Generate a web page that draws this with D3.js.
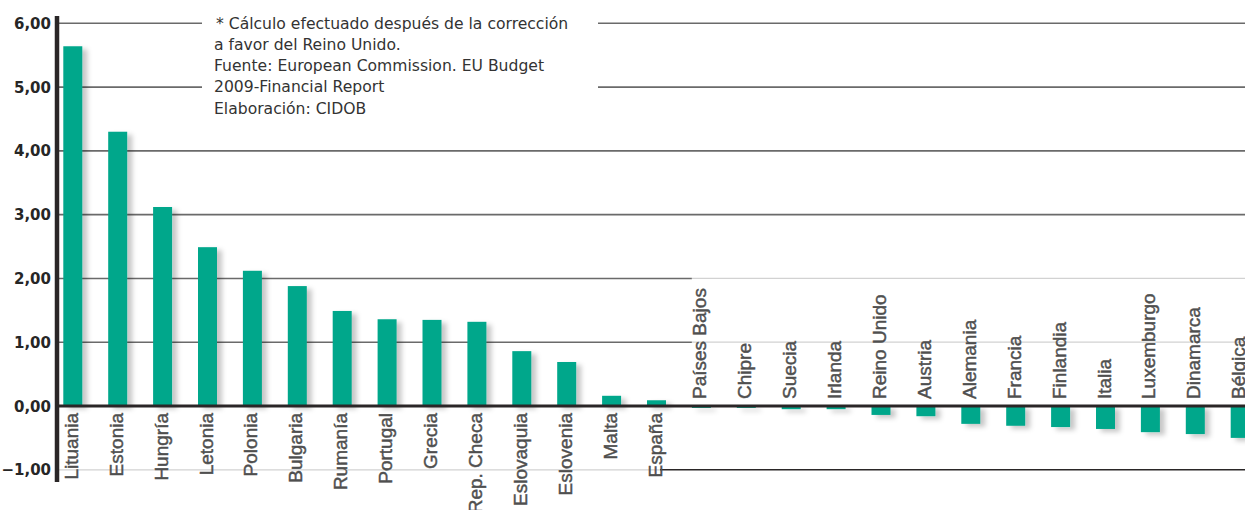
<!DOCTYPE html>
<html lang="es">
<head>
<meta charset="utf-8">
<title>Saldo neto por país</title>
<script src="https://cdn.jsdelivr.net/npm/d3@7/dist/d3.min.js"></script>
<style>
  html, body { margin: 0; padding: 0; background: #fff; }
  svg { display: block; }
</style>
</head>
<body>
<svg id="chart" width="1245" height="510"></svg>
<script>
// Saldo neto (% ingreso nacional bruto), ordenado de mayor a menor
const countries = [
  "Lituania", "Estonia", "Hungría", "Letonia", "Polonia", "Bulgaria", "Rumanía",
  "Portugal", "Grecia", "Rep. Checa", "Eslovaquia", "Eslovenia", "Malta", "España",
  "Países Bajos", "Chipre", "Suecia", "Irlanda", "Reino Unido", "Austria", "Alemania",
  "Francia", "Finlandia", "Italia", "Luxemburgo", "Dinamarca", "Bélgica"
];
const balance = [
  5.64, 4.30, 3.12, 2.49, 2.12, 1.88, 1.49,
  1.36, 1.35, 1.32, 0.86, 0.69, 0.16, 0.09,
  -0.03, -0.03, -0.05, -0.05, -0.14, -0.16, -0.28,
  -0.31, -0.33, -0.36, -0.41, -0.44, -0.50
];
const yTicks = [-1, 0, 1, 2, 3, 4, 5, 6];
const noteLines = [
  "* Cálculo efectuado después de la corrección",
  "a favor del Reino Unido.",
  "Fuente: European Commission. EU Budget",
  "2009-Financial Report",
  "Elaboración: CIDOB"
];

const W = 1245, H = 510;
const svg = d3.select("#chart");

const y = d3.scaleLinear().domain([0, 6]).range([406, 23.3]);
const x = d3.scaleBand()
  .domain(countries)
  .range([63.3, 1249.7])
  .paddingInner(1 - 19 / 44.9)
  .paddingOuter(0);

const fmt = v => d3.format(".2f")(v).replace(".", ",");

// soft drop shadow behind the bars
const defs = svg.append("defs");
const f = defs.append("filter").attr("id", "shadow")
  .attr("x", "-30%").attr("y", "-10%").attr("width", "180%").attr("height", "130%");
f.append("feGaussianBlur").attr("in", "SourceAlpha").attr("stdDeviation", 2.6).attr("result", "b");
f.append("feOffset").attr("in", "b").attr("dx", 5).attr("dy", 3).attr("result", "o");
f.append("feFlood").attr("flood-color", "#000").attr("flood-opacity", 0.22);
f.append("feComposite").attr("in2", "o").attr("operator", "in").attr("result", "s");
const m = f.append("feMerge");
m.append("feMergeNode").attr("in", "s");
m.append("feMergeNode").attr("in", "SourceGraphic");

// gridlines
const axisX = 57;
const darkGrid = "#6a6a6a", lightGrid = "#d2d2d2", inkDark = "#2a2627";
const splitX = x(countries[balance.findIndex(v => v < 0)]);
const noteGap = [202, 598];
const lowSplit = x("España") + 13;

const grid = svg.append("g");
function seg(x1, x2, yy, color, w) {
  grid.append("line")
    .attr("x1", x1).attr("x2", x2).attr("y1", yy).attr("y2", yy)
    .attr("stroke", color).attr("stroke-width", w);
}
yTicks.forEach(t => {
  const yy = y(t);
  if (t === 0) return;
  if (t >= 5) {
    seg(axisX, noteGap[0], yy, darkGrid, 1.6);
    seg(noteGap[1], W, yy, darkGrid, 1.6);
  } else if (t >= 3) {
    seg(axisX, W, yy, darkGrid, 1.6);
  } else if (t > 0) {
    seg(axisX, splitX, yy, darkGrid, 1.6);
    seg(splitX, W, yy, lightGrid, 1.2);
  } else {
    seg(axisX, lowSplit, yy, lightGrid, 1.2);
    seg(lowSplit, W, yy, inkDark, 1.4);
  }
});

// bars
svg.append("g").attr("filter", "url(#shadow)")
  .selectAll("rect").data(countries).join("rect")
  .attr("x", d => x(d))
  .attr("width", x.bandwidth())
  .attr("y", (d, i) => y(Math.max(0, balance[i])))
  .attr("height", (d, i) => Math.abs(y(balance[i]) - y(0)))
  .attr("fill", "#00a78b");

// zero line
svg.append("line")
  .attr("x1", axisX).attr("x2", W).attr("y1", y(0)).attr("y2", y(0))
  .attr("stroke", inkDark).attr("stroke-width", 3);

// vertical axis
svg.append("line")
  .attr("x1", axisX).attr("x2", axisX).attr("y1", 16).attr("y2", 482)
  .attr("stroke", inkDark).attr("stroke-width", 4.5);

// y tick labels
svg.append("g").selectAll("text").data(yTicks).join("text")
  .attr("x", 51).attr("y", d => y(d) + 5.5)
  .attr("text-anchor", "end")
  .attr("font-family", "DejaVu Sans, sans-serif")
  .attr("font-weight", "bold")
  .attr("font-size", 15)
  .attr("fill", "#262626")
  .text(fmt);

// category labels
svg.append("g").selectAll("text").data(countries).join("text")
  .attr("transform", (d, i) => {
    const pos = balance[i] >= 0;
    return `translate(${x(d) + 14.5},${y(0) + (pos ? 7 : -7)}) rotate(-90)`;
  })
  .attr("text-anchor", (d, i) => balance[i] >= 0 ? "end" : "start")
  .attr("font-family", "Liberation Sans, Arial, sans-serif")
  .attr("font-size", 19)
  .attr("fill", "#4f4f4f")
  .attr("stroke", "#4f4f4f")
  .attr("stroke-width", 0.45)
  .text(d => d);

// note
svg.append("g").selectAll("text").data(noteLines).join("text")
  .attr("x", (d, i) => i === 0 ? 216 : 214)
  .attr("y", (d, i) => 28.5 + i * 21.3)
  .attr("font-family", "DejaVu Sans, sans-serif")
  .attr("font-size", 15.6)
  .attr("fill", "#333")
  .text(d => d);
</script>
</body>
</html>
